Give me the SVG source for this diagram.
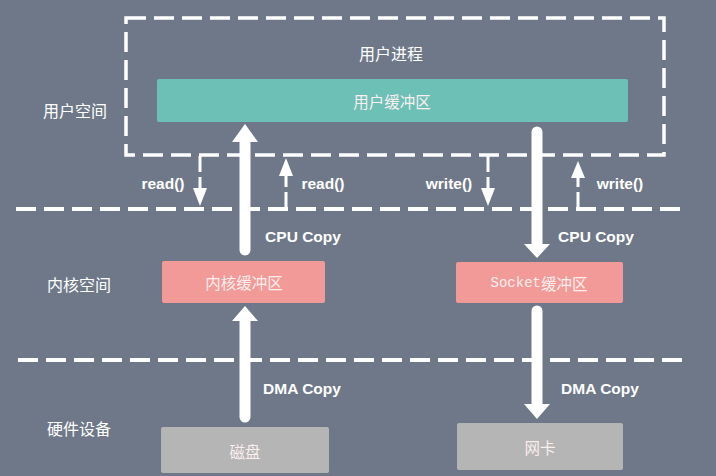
<svg xmlns="http://www.w3.org/2000/svg" width="716" height="476" viewBox="0 0 716 476">
<style>
.bg{fill:#6e7888}
.dash{fill:none;stroke:#fff;stroke-width:4;stroke-dasharray:20 8}
.cjk{font-family:"Noto Sans CJK SC","Liberation Sans",sans-serif;font-size:16px;fill:#fff;text-anchor:middle;dominant-baseline:central}
.lbl{font-family:"Liberation Sans",Arial,sans-serif;font-size:15.5px;font-weight:bold;fill:#fff;text-anchor:middle;dominant-baseline:central}
.boxt{font-family:"Noto Sans CJK SC","Liberation Sans",sans-serif;font-size:15.5px;fill:#fbeeee;text-anchor:middle;dominant-baseline:central}
.mono{font-family:"Liberation Mono","DejaVu Sans Mono",monospace;font-size:14px}
.shaft{stroke:#fff;stroke-width:11;stroke-linecap:round}
.thin{stroke:#fff;stroke-width:3;stroke-dasharray:16 5}
.head{fill:#fff}
.teal{fill:#6cc0b6}
.pink{fill:#f19a97}
.gray{fill:#b5b5b5}
</style>
<rect class="bg" x="0" y="0" width="716" height="476"/>

<g id="boundaries">
<rect class="dash" x="126" y="18" width="538" height="137" style="stroke-width:3.5"/>
<line class="dash" x1="16" y1="209" x2="680" y2="209"/>
<line class="dash" x1="18" y1="360" x2="684" y2="360"/>
</g>

<g id="zone-labels">
<text class="cjk" x="391" y="53">用户进程</text>
<text class="cjk" x="75" y="110">用户空间</text>
<text class="cjk" x="79" y="284">内核空间</text>
<text class="cjk" x="79" y="428">硬件设备</text>
</g>

<g id="user-buffer">
<rect class="teal" x="157" y="79" width="471" height="43" rx="2"/>
<text class="boxt" x="392" y="101">用户缓冲区</text>
</g>

<g id="kernel-buffer">
<rect class="pink" x="162" y="261" width="163" height="42" rx="2"/>
<text class="boxt" x="244" y="282">内核缓冲区</text>
</g>

<g id="socket-buffer">
<rect class="pink" x="456" y="262" width="167" height="41" rx="2"/>
<text class="boxt" x="539" y="283"><tspan class="mono">Socket</tspan>缓冲区</text>
</g>

<g id="disk">
<rect class="gray" x="161" y="427" width="168" height="46" rx="2"/>
<text class="boxt" x="245" y="451">磁盘</text>
</g>

<g id="nic">
<rect class="gray" x="457" y="423" width="166" height="47" rx="2"/>
<text class="boxt" x="540" y="447">网卡</text>
</g>

<g id="connectors">
<line class="shaft" x1="245" y1="250" x2="245" y2="140"/>
<polygon class="head" points="232,142 245,124 258,142"/>
<line class="shaft" x1="537" y1="132" x2="537" y2="246"/>
<polygon class="head" points="524,244 537,258 550,244"/>
<line class="shaft" x1="245" y1="417" x2="245" y2="320"/>
<polygon class="head" points="232,321 245,306 258,321"/>
<line class="shaft" x1="537" y1="311" x2="537" y2="406"/>
<polygon class="head" points="524,404 537,419 550,404"/>

<line class="thin" x1="200" y1="156" x2="200" y2="189"/>
<polygon class="head" points="193,188 200,206 207,188"/>
<line class="thin" x1="286" y1="208" x2="286" y2="175"/>
<polygon class="head" points="279,176 286,158 293,176"/>
<line class="thin" x1="488" y1="156" x2="488" y2="189"/>
<polygon class="head" points="481,188 488,206 495,188"/>
<line class="thin" x1="578" y1="208" x2="578" y2="177"/>
<polygon class="head" points="571,178 578,161 585,178"/>

<text class="lbl" x="163" y="183">read()</text>
<text class="lbl" x="323" y="183">read()</text>
<text class="lbl" x="449" y="183">write()</text>
<text class="lbl" x="620" y="183">write()</text>
<text class="lbl" x="303" y="236">CPU Copy</text>
<text class="lbl" x="596" y="236">CPU Copy</text>
<text class="lbl" x="302" y="388">DMA Copy</text>
<text class="lbl" x="600" y="388">DMA Copy</text>
</g>
</svg>
